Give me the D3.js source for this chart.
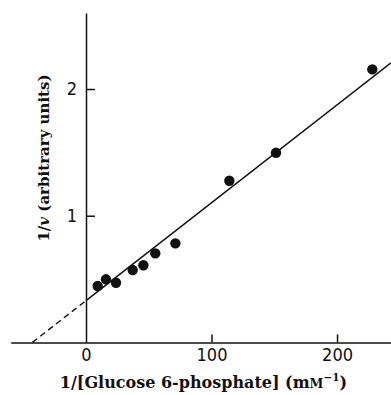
<!DOCTYPE html>
<html>
<head>
<meta charset="utf-8">
<script src="https://cdn.jsdelivr.net/npm/d3@7"></script>
<style>
  html, body { margin: 0; padding: 0; background: #fff; }
  svg { display: block; }
  .tick text { font-family: "Liberation Sans Narrow", "DejaVu Sans Condensed", "Liberation Sans", sans-serif; font-size: 18px; fill: #111; }
  .title { font-family: "DejaVu Serif", "Liberation Serif", serif; font-weight: bold; fill: #111; }
</style>
</head>
<body>
<svg id="chart" width="391" height="395"></svg>
<script>
// Lineweaver–Burk plot: reciprocal rate against reciprocal substrate concentration
const invSubstrate = [9.3, 15.9, 23.9, 37.2, 45.7, 55.2, 71.2, 114.2, 151.4, 228.1];
const invRate      = [0.445, 0.498, 0.471, 0.571, 0.609, 0.703, 0.782, 1.276, 1.497, 2.155];

// Fitted straight line: 1/v = intercept + slope * (1/[S])
const fitIntercept = 0.33;
const fitSlope = 0.00772;

const xTicks = [0, 100, 200];
const yTicks = [1, 2];
const xDomain = [-60, 243];
const yDomain = [0, 2.6];

const svg = d3.select("#chart");

const x = d3.scaleLinear().domain(xDomain).range([10.7, 391]);
const y = d3.scaleLinear().domain(yDomain).range([342.4, 13]);

const ink = "#111";

// Axes with inward ticks
const xAxis = d3.axisBottom(x).tickValues(xTicks).tickFormat(d3.format("d"))
  .tickSizeInner(-8).tickSizeOuter(0).tickPadding(6);
const gx = svg.append("g").attr("transform", `translate(0,${y(0)})`).call(xAxis);

const yAxis = d3.axisLeft(y).tickValues(yTicks).tickFormat(d3.format("d"))
  .tickSizeInner(-9).tickSizeOuter(0).tickPadding(9);
const gy = svg.append("g").attr("transform", `translate(${x(0)},0)`).call(yAxis);

[gx, gy].forEach(g => {
  g.select(".domain").attr("stroke", ink).attr("stroke-width", 1.5);
  g.selectAll(".tick line").attr("stroke", ink).attr("stroke-width", 1.5);
});
gx.selectAll(".tick").filter(d => d === 0).select("line").remove();

// Fitted line: solid across the data, dashed extrapolation to the x intercept
const fit = v => fitIntercept + fitSlope * v;
const xIntercept = -fitIntercept / fitSlope;
const line = d3.line().x(d => x(d)).y(d => y(fit(d)));

svg.append("path")
  .attr("d", line([0, xDomain[1]]))
  .attr("fill", "none").attr("stroke", ink).attr("stroke-width", 1.5);

svg.append("path")
  .attr("d", line([xIntercept, 0]))
  .attr("fill", "none").attr("stroke", ink).attr("stroke-width", 1.4)
  .attr("stroke-dasharray", "6,4");

// Data points
svg.append("g").selectAll("circle")
  .data(invSubstrate.map((s, i) => [s, invRate[i]]))
  .join("circle")
  .attr("cx", d => x(d[0]))
  .attr("cy", d => y(d[1]))
  .attr("r", 5.2)
  .attr("fill", ink);

// Axis titles
const xt = svg.append("text").attr("class", "title").attr("font-size", "16px")
  .attr("x", 203.5).attr("y", 388).attr("text-anchor", "middle");
xt.append("tspan").text("1/[Glucose 6-phosphate] (m");
xt.append("tspan").attr("font-size", "12.5px").text("M");
xt.append("tspan").attr("font-size", "10.5px").attr("dy", -7).text("−1");
xt.append("tspan").attr("dy", 7).text(")");

const yt = svg.append("text").attr("class", "title").attr("font-size", "15px")
  .attr("transform", "translate(49,158) rotate(-90)")
  .attr("text-anchor", "middle");
yt.append("tspan").text("1/");
yt.append("tspan").attr("font-style", "italic").text("v");
yt.append("tspan").text(" (arbitrary units)");
</script>
</body>
</html>
